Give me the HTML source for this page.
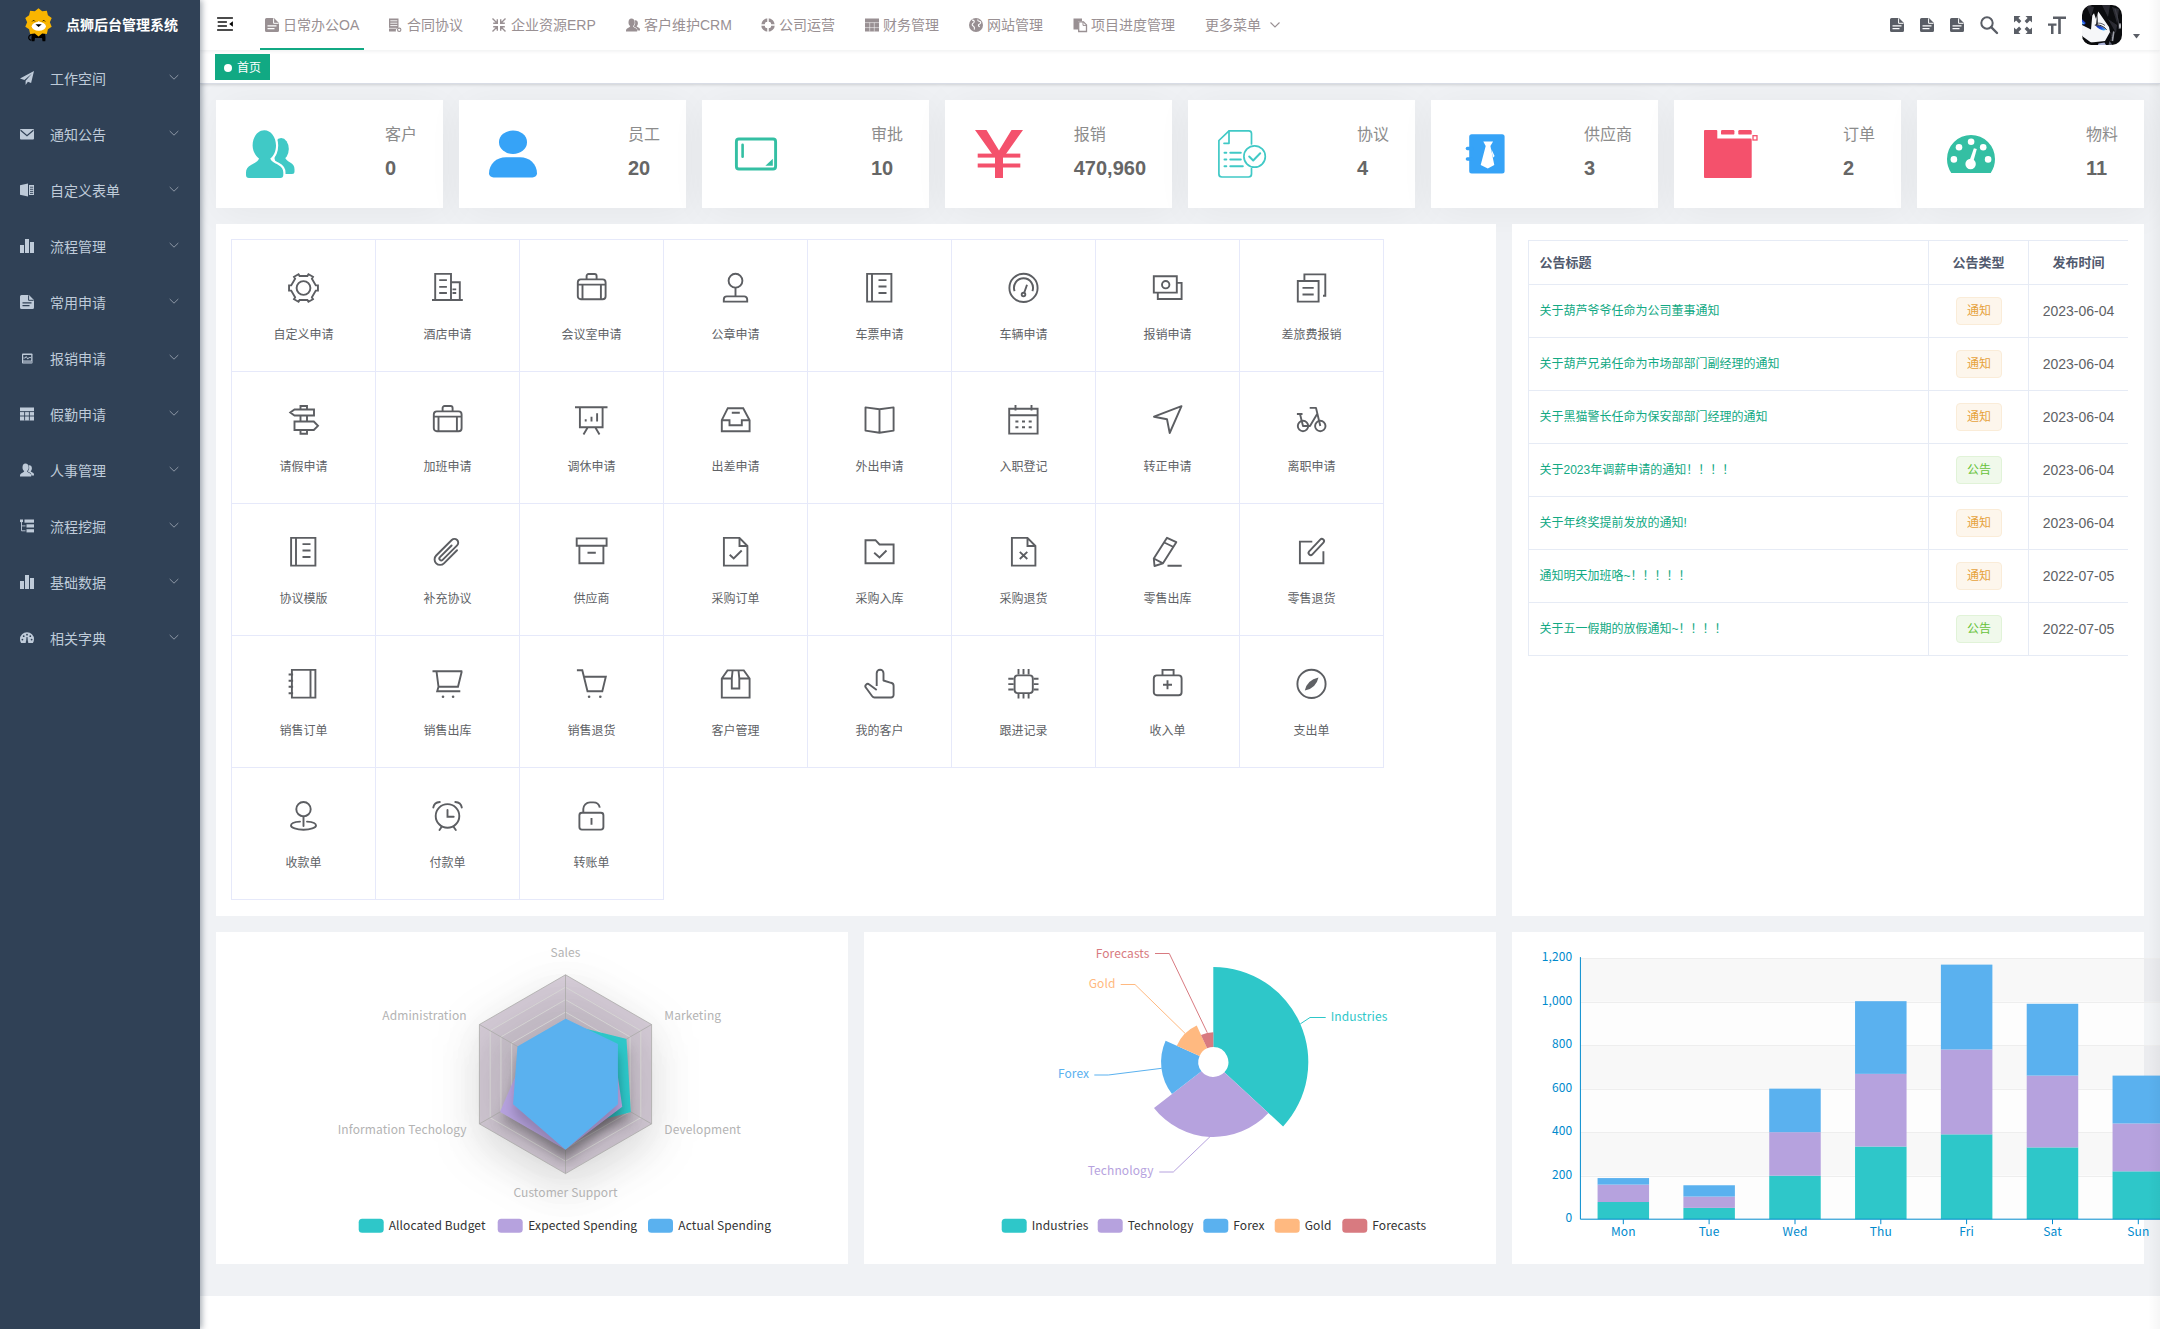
<!DOCTYPE html>
<html lang="zh-CN">
<head>
<meta charset="utf-8">
<title>点狮后台管理系统</title>
<style>
*{box-sizing:border-box;margin:0;padding:0}
html,body{width:2160px;height:1329px;overflow:hidden;background:#fff;font-family:"Liberation Sans","Noto Sans CJK SC",sans-serif;font-size:14px;color:#606266;-webkit-font-smoothing:antialiased}
.abs{position:absolute}
svg{display:block;overflow:visible}
#sidebar{position:absolute;left:0;top:0;width:200px;height:1329px;background:#304156;box-shadow:2px 0 6px rgba(0,21,41,.35);z-index:10}
#sidebar .title{position:absolute;left:66px;top:14px;font-size:14px;line-height:22px;font-weight:bold;color:#fff;white-space:nowrap}
.mi{position:absolute;left:0;width:200px;height:56px;color:#bfcbd9;font-size:14px;line-height:56px}
.mi .txt{position:absolute;left:50px;top:0.5px;white-space:nowrap}
.mi svg.ic{position:absolute;left:19px;top:20px;width:16px;height:16px;fill:#bfcbd9}
.mi svg.ar{position:absolute;left:168px;top:20.500px;width:12px;height:12px;fill:none;stroke:#8d97a5;stroke-width:1}
#main{position:absolute;left:200px;top:0;width:1960px;height:1296px;background:#f0f2f5}
#navbar{position:absolute;left:0;top:0;width:1960px;height:50px;background:#fff;box-shadow:0 1px 4px rgba(0,21,41,.08);z-index:3}
#tags{position:absolute;left:0;top:50px;width:1960px;height:34px;background:#fff;border-bottom:1px solid #d8dce5;box-shadow:0 1px 3px 0 rgba(0,0,0,.12),0 0 3px 0 rgba(0,0,0,.04);z-index:2}
.tag{position:absolute;left:15px;top:4px;height:26px;width:55px;background:#11a983;border:1px solid #11a983;color:#fff;font-size:12px;line-height:24px}
.tag i{position:absolute;left:8px;top:8.700px;width:8px;height:8px;border-radius:50%;background:#fff}
.tag span{position:absolute;left:21px;top:1px}
.nv{position:absolute;top:0;height:50px;line-height:50px;font-size:14px;color:#999093;white-space:nowrap}
.nv svg{position:absolute;top:18px;width:14px;height:14px;fill:#999093}
.card{position:absolute;background:#fff}
.st{top:100px;width:227px;height:108px;box-shadow:4px 4px 40px rgba(0,0,0,.05)}
.st .d{position:absolute;right:26px;top:26px}
.st .t{font-size:16px;line-height:18px;color:#8c8c8c;margin-bottom:13px;white-space:nowrap}
.st .n{font-size:20px;line-height:23px;font-weight:bold;color:#666;white-space:nowrap}
.st svg{position:absolute;left:30px;top:30px;width:48px;height:48px}
.grid{position:absolute;left:15px;top:15px;width:1153px;height:661px;border-top:1px solid #e6e9fa;border-left:1px solid #e6e9fa}
.gc{position:absolute;width:144px;height:132px;border-right:1px solid #e6e9fa;border-bottom:1px solid #e6e9fa;margin:0}
.gc svg{position:absolute;left:55.500px;top:33px;width:30px;height:30px;fill:none;stroke:#5c5e62;stroke-width:1.900}
.gc span{position:absolute;left:0;top:86.500px;width:143px;text-align:center;font-size:12px;line-height:17px;color:#606266;white-space:nowrap}
.tb{position:absolute;left:16px;top:16px;width:600px;height:416px;border-top:1px solid #e6ebf5;border-left:1px solid #e6ebf5}
.tr{position:absolute;left:0;width:599px;border-bottom:1px solid #e6ebf5;font-size:14px;color:#606266}
.tr>div{position:absolute;top:0;height:100%;border-right:1px solid #e6ebf5;display:flex;align-items:center;white-space:nowrap}
.tr .c1{left:0;width:400px;padding-left:11px}
.tr .c2{left:400px;width:100px;justify-content:center}
.tr .c3{left:500px;width:99px;justify-content:center;border-right:none}
.th{font-size:13px;font-weight:bold;color:#515a6e}
.th>div{padding-bottom:3px}
.tr .c1{padding-left:10.500px}
.tr a{font-size:12px;color:#11a983;position:relative;top:-1.500px}
.tg{display:inline-block;height:28px;line-height:27px;padding:0 9.500px;margin-left:1px;font-size:12px;border-radius:4px;border:1px solid}
.tw{background:#fdf6ec;border-color:#faecd8;color:#e6a23c}
.ts{background:#f0f9eb;border-color:#e1f3d8;color:#67c23a}
</style>
</head>
<body>
<div id="sidebar">
<svg class="abs" style="left:21.500px;top:8px;width:33px;height:39.200px" viewBox="0 0 32 38">
<path d="M10.300 23.500c-1.100 2.700-1.400 5.800-.9 8.700h2.700l.5-3.200h6.800l.5 3.200h2.700c.5-2.900.2-6-.9-8.700z" fill="#000"/>
<path d="M9.600 25.800c-2.300.2-3.500 1.900-3 3.700.3 1.100 1.300 1.700 2.400 1.500" fill="none" stroke="#000" stroke-width="1.200"/>
<g transform="translate(16 13.900) scale(1.050) translate(-16 -14)"><path d="M16 1l3.400 2.700 4.300-.4 1 4.200 3.500 2.500-1.700 4 1.700 4-3.500 2.500-1 4.200-4.300-.4L16 27l-3.400-2.700-4.300.4-1-4.200-3.500-2.500 1.700-4-1.700-4 3.500-2.500 1-4.200 4.300.4z" fill="#f9b500"/></g>
<ellipse cx="16.300" cy="17.800" rx="6.900" ry="4.200" fill="#fff"/>
<path d="M13.800 14.500h5l-2.500-1.800z" fill="#fff"/>
<path d="M13 15.700h6.200L16.100 18.400z" fill="#000"/>
<path d="M9.900 13c.6-1.100 2.100-1.100 2.700 0M19.700 13c.6-1.100 2.100-1.100 2.700 0" fill="none" stroke="#000" stroke-width="0.800"/>
</svg>
<div class="title">点狮后台管理系统</div>
<div class="mi" style="top:50px"><svg class="ic" viewBox="-1 -1 16 16"><path d="M14 0L0 7.4l4.4 1.5L12 2.6 5.6 9.8V14l2.3-3.2 3.2 1.1z"/></svg><span class="txt">工作空间</span><svg class="ar" viewBox="0 0 12 12"><path d="M1.700 4l4.300 4.200L10.300 4"/></svg></div>
<div class="mi" style="top:106px"><svg class="ic" viewBox="-1 -1 16 16"><rect x="0" y="2" width="14" height="10.5" rx="1"/><path d="M0.6 3.2L7 8.6l6.4-5.4" fill="none" stroke="#304156" stroke-width="1.2"/></svg><span class="txt">通知公告</span><svg class="ar" viewBox="0 0 12 12"><path d="M1.700 4l4.300 4.200L10.300 4"/></svg></div>
<div class="mi" style="top:162px"><svg class="ic" viewBox="-1 -1 16 16"><path d="M0 2.2L8 0.6v12.8L0 11.8z"/><path d="M9 2h5v10H9z"/><path d="M10 4.2h3.2M10 6.3h3.2M10 8.4h3.2M10 10.4h3.2" stroke="#304156" stroke-width="0.9" fill="none"/></svg><span class="txt">自定义表单</span><svg class="ar" viewBox="0 0 12 12"><path d="M1.700 4l4.300 4.200L10.300 4"/></svg></div>
<div class="mi" style="top:218px"><svg class="ic" viewBox="-1 -1 16 16"><rect x="0" y="6" width="4" height="8"/><rect x="5" y="0" width="4" height="14"/><rect x="10" y="3" width="4" height="11"/></svg><span class="txt">流程管理</span><svg class="ar" viewBox="0 0 12 12"><path d="M1.700 4l4.300 4.200L10.300 4"/></svg></div>
<div class="mi" style="top:274px"><svg class="ic" viewBox="-1 -1 16 16"><path d="M1.5 0H9l5 5v7.5a1.5 1.5 0 0 1-1.5 1.5h-11A1.5 1.5 0 0 1 0 12.500V1.500A1.500 1.500 0 0 1 1.500 0z"/><path d="M8.600 0.300v5h5" fill="none" stroke="#304156" stroke-width="1"/><path d="M2.500 7.800h9M2.500 10.600h7" stroke="#304156" stroke-width="1.300" fill="none"/></svg><span class="txt">常用申请</span><svg class="ar" viewBox="0 0 12 12"><path d="M1.700 4l4.300 4.200L10.300 4"/></svg></div>
<div class="mi" style="top:330px"><svg class="ic" viewBox="-1 -1 16 16"><rect x="2" y="2.500" width="10.500" height="10" rx="0.800"/><rect x="3.200" y="4" width="8" height="5.500" fill="#304156"/><path d="M3.400 7h1.800l1-1.500 1.600 2.600 1-1.500h2.200" fill="none" stroke="#bfcbd9" stroke-width="0.900"/><path d="M3 11h9" stroke="#304156" stroke-width="0.700"/></svg><span class="txt">报销申请</span><svg class="ar" viewBox="0 0 12 12"><path d="M1.700 4l4.300 4.200L10.300 4"/></svg></div>
<div class="mi" style="top:386px"><svg class="ic" viewBox="-1 -1 16 16"><rect x="0" y="0.500" width="14" height="13"/><path d="M0 4.600h14M0 9h14M4.600 4.600v9M9.400 4.600v9" stroke="#304156" stroke-width="0.900" fill="none"/></svg><span class="txt">假勤申请</span><svg class="ar" viewBox="0 0 12 12"><path d="M1.700 4l4.300 4.200L10.300 4"/></svg></div>
<div class="mi" style="top:442px"><svg class="ic" viewBox="-1 -1 16 16"><path d="M9.300 2.200c1.600 0 2.600 1.300 2.600 3 0 1.300-.6 2.400-1.300 2.900.2.800 1.200 1.200 2.200 1.700.8.400 1.200.9 1.200 2.200v.6h-2.600c0-1.600-.6-2.400-1.800-3-.9-.4-1.600-.8-1.800-1.300.9-.9 1.400-2.200 1.400-3.600 0-.9-.2-1.700-.6-2.400.2-.1.500-.1.700-.1z"/><path d="M5.400 0.600c2 0 3.300 1.600 3.300 3.800 0 1.700-.8 3-1.700 3.700.2 1 1.400 1.500 2.700 2.100 1 .5 1.500 1.200 1.500 2.600v.8H0v-.8c0-1.400.5-2.100 1.500-2.600 1.300-.6 2.500-1.100 2.700-2.100-.9-.7-1.700-2-1.700-3.700 0-2.200 1.100-3.800 2.900-3.800z"/></svg><span class="txt">人事管理</span><svg class="ar" viewBox="0 0 12 12"><path d="M1.700 4l4.300 4.200L10.300 4"/></svg></div>
<div class="mi" style="top:498px"><svg class="ic" viewBox="-1 -1 16 16"><rect x="0" y="0.500" width="3" height="2.600"/><rect x="4.500" y="0.500" width="9.500" height="3.200"/><rect x="6.500" y="5.300" width="7.500" height="3.200"/><rect x="6.500" y="10.200" width="7.500" height="3.200"/><path d="M1.500 3v8.800h4M1.500 6.900h4" fill="none" stroke="#bfcbd9" stroke-width="0.900"/></svg><span class="txt">流程挖掘</span><svg class="ar" viewBox="0 0 12 12"><path d="M1.700 4l4.300 4.200L10.300 4"/></svg></div>
<div class="mi" style="top:554px"><svg class="ic" viewBox="-1 -1 16 16"><rect x="0" y="6" width="4" height="8"/><rect x="5" y="0" width="4" height="14"/><rect x="10" y="3" width="4" height="11"/></svg><span class="txt">基础数据</span><svg class="ar" viewBox="0 0 12 12"><path d="M1.700 4l4.300 4.200L10.300 4"/></svg></div>
<div class="mi" style="top:610px"><svg class="ic" viewBox="-1 -1 16 16"><path d="M7 1.200a7 7 0 0 1 7 7c0 1.500-.4 2.800-1.100 3.800H1.100A6.900 6.900 0 0 1 0 8.200a7 7 0 0 1 7-7z"/><g fill="#304156"><circle cx="2.400" cy="8.600" r="0.900"/><circle cx="3.700" cy="5.200" r="0.900"/><circle cx="7" cy="3.700" r="0.900"/><circle cx="10.300" cy="5.200" r="0.900"/><circle cx="11.600" cy="8.600" r="0.900"/><path d="M6.500 6h1l.4 4.300a1.300 1.300 0 1 1-1.800 0z"/></g></svg><span class="txt">相关字典</span><svg class="ar" viewBox="0 0 12 12"><path d="M1.700 4l4.300 4.200L10.300 4"/></svg></div>
</div>
<div id="main">
<div id="navbar">
<svg class="abs" style="left:17px;top:17px;width:16px;height:14px" viewBox="0 0 16 14"><path d="M0.100 0.900h15.800M0.700 5h9.200M0.700 8.900h9.200M0.100 13.100h15.800" stroke="#111" stroke-width="1.500" fill="none"/><path d="M15.900 4.200v5.600L12.200 7z" fill="#000"/></svg>
<div class="nv" style="left:65px"><svg viewBox="0 0 14 14" style="left:0"><path d="M1.500 0H9l5 5v7.500a1.500 1.500 0 0 1-1.500 1.500h-11A1.500 1.500 0 0 1 0 12.500v-11A1.500 1.500 0 0 1 1.500 0z"/><path d="M8.600 0.300v5h5" fill="none" stroke="#fff" stroke-width="1"/><path d="M2.500 7.800h9M2.500 10.600h7" stroke="#fff" stroke-width="1.300" fill="none"/></svg><span style="position:absolute;left:18px;top:0">日常办公OA</span></div>
<div class="nv" style="left:188px"><svg viewBox="0 0 14 14" style="left:0"><path d="M1 0.500h9.500v9.200a3 3 0 0 0-2.600 3.800H1z"/><path d="M2.300 2.800h7M2.300 5.200h7M2.300 7.600h7" stroke="#fff" stroke-width="0.900" fill="none"/><path d="M0.500 10.300h8" stroke="#fff" stroke-width="0.700"/><circle cx="11.200" cy="11.800" r="1.700" fill="none" stroke="#999093" stroke-width="1.100"/></svg><span style="position:absolute;left:19px;top:0">合同协议</span></div>
<div class="nv" style="left:292px"><svg viewBox="0 0 14 14" style="left:0"><g fill="none" stroke="#999093" stroke-width="1.400"><path d="M0.500 0.500l4.500 4.500M1.200 5.300h4.100V1.200"/><path d="M13.500 0.500L9 5M12.800 5.300H8.700V1.200"/><path d="M0.500 13.500L5 9M1.200 8.700h4.100v4.100"/><path d="M13.500 13.500L9 9M12.800 8.700H8.700v4.100"/></g></svg><span style="position:absolute;left:19px;top:0">企业资源ERP</span></div>
<div class="nv" style="left:426px"><svg viewBox="0 0 14 14" style="left:0"><path d="M9.300 2.200c1.600 0 2.600 1.300 2.600 3 0 1.300-.6 2.400-1.300 2.900.2.800 1.200 1.200 2.200 1.700.8.400 1.200.9 1.200 2.200v.6h-2.600c0-1.600-.6-2.400-1.800-3-.9-.4-1.600-.8-1.800-1.300.9-.9 1.400-2.200 1.400-3.600 0-.9-.2-1.700-.6-2.400.2-.1.500-.1.700-.1z"/><path d="M5.400 0.600c2 0 3.300 1.600 3.300 3.800 0 1.700-.8 3-1.700 3.700.2 1 1.400 1.500 2.700 2.100 1 .5 1.500 1.200 1.500 2.600v.8H0v-.8c0-1.400.5-2.100 1.500-2.600 1.300-.6 2.500-1.100 2.700-2.100-.9-.7-1.700-2-1.700-3.700 0-2.200 1.100-3.800 2.900-3.800z"/></svg><span style="position:absolute;left:18px;top:0">客户维护CRM</span></div>
<div class="nv" style="left:561px"><svg viewBox="0 0 14 14" style="left:0"><circle cx="7" cy="7" r="5" fill="none" stroke="#999093" stroke-width="3.600"/><path d="M7 0v14M0 7h14" stroke="#fff" stroke-width="1.500"/><circle cx="7" cy="7" r="3.200" fill="#fff"/></svg><span style="position:absolute;left:18px;top:0">公司运营</span></div>
<div class="nv" style="left:665px"><svg viewBox="0 0 14 14" style="left:0"><rect x="0" y="0.500" width="14" height="13"/><path d="M0 4.600h14M0 9.600h14M4.700 4.600v9M9.300 4.600v9" stroke="#fff" stroke-opacity="0.750" stroke-width="0.700" fill="none"/></svg><span style="position:absolute;left:18px;top:0">财务管理</span></div>
<div class="nv" style="left:769px"><svg viewBox="0 0 14 14" style="left:0"><circle cx="7" cy="7" r="7"/><path d="M3 2.200c1.500-.4 2.500.5 2.200 1.800-.3 1.200-1.800 1.200-2 2.500-.2 1 .8 1.500 1.600 2 .9.600.8 1.800.4 3.200" fill="none" stroke="#fff" stroke-width="1.100"/><path d="M9 1.500c-.5 1 .3 1.800 1.300 1.800s1.700.8 1.300 1.800c-.3.800-1.400.7-2 1.500-.6.900.2 1.800 1.200 2.200" fill="none" stroke="#fff" stroke-width="1.100"/></svg><span style="position:absolute;left:18px;top:0">网站管理</span></div>
<div class="nv" style="left:872.5px"><svg viewBox="0 0 14 14" style="left:0"><path d="M0.500 0.500h8.500v2.700H5v8.300H0.500z"/><path d="M5.700 3.900h4.800l3 3v6.600H5.700z" fill="none" stroke="#999093" stroke-width="1.300"/><path d="M10 3.900v3.500h3.500" fill="none" stroke="#999093" stroke-width="1"/></svg><span style="position:absolute;left:18.5px;top:0">项目进度管理</span></div>
<div class="nv" style="left:1005px">更多菜单</div>
<svg class="abs" style="left:1070px;top:21px;width:10px;height:8px" viewBox="0 0 10 8"><path d="M0.500 1.500L5 6l4.500-4.500" fill="none" stroke="#999093" stroke-width="1.100"/></svg>
<div class="abs" style="left:60px;top:48px;width:104px;height:2px;background:#11a983"></div>
<svg class="abs" style="left:1690px;top:18px;width:14px;height:14px;fill:#5a5e66" viewBox="0 0 14 14"><path d="M1.500 0H9l5 5v7.500a1.500 1.500 0 0 1-1.500 1.500h-11A1.500 1.500 0 0 1 0 12.500v-11A1.500 1.500 0 0 1 1.500 0z"/><path d="M8.600 0.300v5h5" fill="none" stroke="#fff" stroke-width="1"/><path d="M2.500 7.800h9M2.500 10.600h7" stroke="#fff" stroke-width="1.300" fill="none"/></svg>
<svg class="abs" style="left:1720px;top:18px;width:14px;height:14px;fill:#5a5e66" viewBox="0 0 14 14"><path d="M1.500 0H9l5 5v7.500a1.500 1.500 0 0 1-1.500 1.500h-11A1.500 1.500 0 0 1 0 12.500v-11A1.500 1.500 0 0 1 1.500 0z"/><path d="M8.600 0.300v5h5" fill="none" stroke="#fff" stroke-width="1"/><path d="M2.500 7.800h9M2.500 10.600h7" stroke="#fff" stroke-width="1.300" fill="none"/></svg>
<svg class="abs" style="left:1750px;top:18px;width:14px;height:14px;fill:#5a5e66" viewBox="0 0 14 14"><path d="M1.500 0H9l5 5v7.500a1.500 1.500 0 0 1-1.500 1.500h-11A1.500 1.500 0 0 1 0 12.500v-11A1.500 1.500 0 0 1 1.500 0z"/><path d="M8.600 0.300v5h5" fill="none" stroke="#fff" stroke-width="1"/><path d="M2.500 7.800h9M2.500 10.600h7" stroke="#fff" stroke-width="1.300" fill="none"/></svg>
<svg class="abs" style="left:1780px;top:16px;width:18px;height:18px" viewBox="0 0 18 18"><circle cx="7" cy="7" r="5.700" fill="none" stroke="#5a5e66" stroke-width="2"/><path d="M11.200 11.200l5.800 5.800" stroke="#5a5e66" stroke-width="2.400" stroke-linecap="round"/></svg>
<svg class="abs" style="left:1814px;top:16px;width:18px;height:18px" viewBox="0 0 18 18"><g fill="#5a5e66"><path d="M0 0h6.500L4.400 2.100l3 3-2.300 2.300-3-3L0 6.500z"/><path d="M18 0v6.500l-2.100-2.100-3 3-2.300-2.300 3-3L11.500 0z"/><path d="M0 18v-6.500l2.100 2.100 3-3 2.300 2.300-3 3L6.500 18z"/><path d="M18 18h-6.500l2.100-2.100-3-3 2.300-2.300 3 3 2.100-2.100z"/></g></svg>
<svg class="abs" style="left:1848px;top:16px;width:18px;height:18px" viewBox="0 0 18 18"><path d="M5 0.500h13v2.400h-5.200V18h-2.600V2.900H5z" fill="#5a5e66"/><path d="M0 7.500h8.500v2.200H5.500V18H3V9.700H0z" fill="#5a5e66"/></svg>
<svg class="abs" style="left:1882px;top:5px;width:40px;height:40px" viewBox="0 0 40 40"><defs><clipPath id="avc"><rect width="40" height="40" rx="10"/></clipPath><filter id="avb" x="-10%" y="-10%" width="120%" height="120%"><feGaussianBlur stdDeviation="0.550"/></filter><linearGradient id="eyeg" x1="0" y1="0" x2="1" y2="1"><stop offset="0" stop-color="#14208a"/><stop offset="0.550" stop-color="#1f55e0"/><stop offset="1" stop-color="#55c4f5"/></linearGradient></defs>
<g clip-path="url(#avc)"><rect width="40" height="40" fill="#0b0c0f"/><g filter="url(#avb)">
<path d="M4 0L9 12 12 2zM20 0l6 12 2-12zM30 2l5 16 2-14zM26 14l8 14 1-8z" fill="#2b2c33"/>
<path d="M33 4c2 6 4 12 4 20" stroke="#3d3e46" stroke-width="1.200" fill="none"/>
<path d="M0 20L9 24.500 10.300 10.500 12 8.200 14 14 16.300 6.500 27 22 28 27 23 36 9 37.500 0 31z" fill="#f6f7f9"/>
<path d="M15.300 8L14 20.500l1.900-1.200z" fill="#1a1b20"/>
<path d="M14.500 18.500c3-1 6 0 8.500 2" stroke="#3a3b42" stroke-width="0.800" fill="none"/>
<path d="M13.200 20.300C17 19.800 21 21.800 24.200 24.800 21 26.300 17 25 13.200 20.300z" fill="url(#eyeg)"/>
<path d="M12.800 20.100C17 19.300 21.500 21.300 24.600 24.600" stroke="#14151a" stroke-width="1" fill="none"/>
<path d="M0 14.300L3.800 18 2.200 19.800 0 18.800z" fill="#1d45d8"/>
<path d="M0 16.500l2.500 2.300L0 19.500z" fill="#5aa8f0"/>
<path d="M0 33l3 2.500 5 2 10 1.500v3H0z" fill="#0b0c0f"/>
<path d="M0 34.500l1.800 1.200-.5 2.300L0 38z" fill="#8e9fe0"/>
<path d="M16.500 38.500l6-1 1.500 2.500h-8z" fill="#aab2d6"/>
<path d="M31 26.200l1.600.5-1.400 9.500-1.700-.5z" fill="#9a9ca6"/>
<path d="M27.500 36l3 4h-4z" fill="#5d6070"/>
<ellipse cx="38" cy="21" rx="0.900" ry="3" fill="#d5d6db"/>
<path d="M28.500 27c1.500 3 1.500 6 0 9" stroke="#2e2f36" stroke-width="1" fill="none"/>
</g></g></svg>
<svg class="abs" style="left:1932.500px;top:34px;width:7px;height:4.500px" viewBox="0 0 8 5"><path d="M0 0h8L4 5z" fill="#5a5e66"/></svg>
</div>
<div id="tags"><div class="tag"><i></i><span>首页</span></div></div>
<div class="card st" style="left:16px"><svg viewBox="0 0 48 48"><g fill="#40c9c6"><ellipse cx="35.200" cy="19" rx="7.600" ry="11"/><path d="M28 26h10.500c.5 3.200 2.800 4.700 5.700 6.500 2.800 1.800 4.300 3.600 4.300 6.700v2.300A2.500 2.500 0 0 1 46 44H32z"/><g stroke="#fff" stroke-width="4.400" paint-order="stroke"><path d="M18.300 0.300c6.600 0 11.700 6.800 11.700 15.200 0 5.600-2.300 10.500-5.700 13.100.9 3 4.200 4.400 8 6.300 3.500 1.800 5 4.100 5 7.600V45a3 3 0 0 1-3 3H3a3 3 0 0 1-3-3v-2.500c0-3.500 1.500-5.800 5-7.600 3.800-1.900 7.100-3.300 8-6.300-3.400-2.600-6.400-7.500-6.400-13.100C6.600 7.100 11.700 0.300 18.300 0.300z"/></g></g></svg><div class="d"><div class="t">客户</div><div class="n">0</div></div></div>
<div class="card st" style="left:259px"><svg viewBox="0 0 48 48"><g fill="#36a3f7"><ellipse cx="24" cy="12.200" rx="14" ry="11.800"/><path d="M0 43.500C0 34 7.500 27.300 17 27.300h14c9.500 0 17 6.700 17 16.200 0 2.300-2 3.900-4.500 3.900h-39C2 47.400 0 45.800 0 43.500z"/></g></svg><div class="d"><div class="t">员工</div><div class="n">20</div></div></div>
<div class="card st" style="left:502px"><svg viewBox="0 0 48 48"><rect x="4.400" y="9" width="39.200" height="30" rx="2.500" fill="none" stroke="#34bfa3" stroke-width="2.900"/><path d="M10.600 14.800v12" stroke="#34bfa3" stroke-width="2.600" stroke-linecap="round"/><path d="M33.400 35.800h7.400v-7z" fill="#34bfa3"/></svg><div class="d"><div class="t">审批</div><div class="n">10</div></div></div>
<div class="card st" style="left:745px"><svg viewBox="0 0 48 48"><g fill="#f4516c"><path d="M0 0h11.500L24 20.500 36.500 0H48L29.500 26h-11z"/><rect x="2.700" y="23.600" width="42.600" height="4"/><rect x="2.700" y="33.500" width="42.600" height="4"/><rect x="20" y="22" width="8" height="26"/></g></svg><div class="d"><div class="t">报销</div><div class="n">470,960</div></div></div>
<div class="card st" style="left:988px"><svg viewBox="0 0 48 48"><g fill="none" stroke="#40c9c6" stroke-width="1.700" stroke-linecap="round" stroke-linejoin="round"><path d="M33.500 14V3.500A2.700 2.700 0 0 0 30.800 0.900H11L0.900 10.500V44a3 3 0 0 0 3 3h26.600a3 3 0 0 0 3-3v-5.500"/><path d="M11 1.200V13.300H6"/><circle cx="36.600" cy="26.500" r="10.700"/><path d="M31.200 26.500l4 4 7-7.300" stroke-width="2"/></g><g stroke="#40c9c6" stroke-width="2" stroke-linecap="round"><path d="M6.500 22.800h1.800M12.300 22.800h10.500M6.500 29.600h1.800M12.300 29.600h10.500M6.500 36.200h1.800M12.300 36.200h12.500"/></g></svg><div class="d"><div class="t">协议</div><div class="n">4</div></div></div>
<div class="card st" style="left:1231px"><svg viewBox="0 0 48 48"><g fill="#36a3f7"><rect x="8.200" y="4.200" width="35.400" height="39.300" rx="2.500"/><rect x="4.700" y="16.800" width="8" height="3.400" rx="1.700"/><rect x="4.700" y="27.300" width="8" height="3.400" rx="1.700"/></g><path d="M22.300 11.500h9.800l-2.700 4.400 3.900 19.100-6.500 3.600-7.100-3.600 5-19.100z" fill="#fff"/><path d="M30.300 19l3.300 7-1.700 1.800z" fill="#fff"/></svg><div class="d"><div class="t">供应商</div><div class="n">3</div></div></div>
<div class="card st" style="left:1474px"><svg viewBox="0 0 48 48"><g fill="#f4516c"><path d="M1 0h11.300a1 1 0 0 1 1 1v7.500h33.400a1 1 0 0 1 1 1V47a1 1 0 0 1-1 1H1a1 1 0 0 1-1-1V1a1 1 0 0 1 1-1z"/><rect x="17" y="0" width="13.400" height="4.600" rx="1.200"/><rect x="34.300" y="0" width="13.400" height="4.600" rx="1.200"/></g><rect x="49" y="5.700" width="4" height="4.300" fill="#fff" stroke="#f4516c" stroke-width="1.300"/></svg><div class="d"><div class="t">订单</div><div class="n">2</div></div></div>
<div class="card st" style="left:1717px"><svg viewBox="0 0 48 48"><path d="M24 5A24 24 0 0 1 48 29c0 5-1.500 10-4.300 14H4.300A24.600 24.600 0 0 1 0 29 24 24 0 0 1 24 5z" fill="#34bfa3"/><g fill="#fff"><circle cx="6.900" cy="29.400" r="3.300"/><circle cx="12" cy="17.300" r="3.300"/><circle cx="24.100" cy="11.800" r="3.300"/><circle cx="36.200" cy="17.300" r="3.300"/><circle cx="41.100" cy="29.400" r="3.300"/><circle cx="23.600" cy="34" r="5.200"/><path d="M26.900 18.300l2.900.8-3.600 13-3.800-1z"/></g></svg><div class="d"><div class="t">物料</div><div class="n">11</div></div></div>
<div class="card" id="gridcard" style="left:16px;top:224px;width:1280px;height:692px">
<div class="grid">
<div class="gc" style="left:0px;top:0px"><svg viewBox="0 0 30 30"><path d="M27.80 12.40 L29.95 12.40 L29.95 17.60 L27.80 17.60 L23.90 24.35 L24.98 26.21 L20.47 28.81 L19.40 26.95 L11.60 26.95 L10.53 28.81 L6.02 26.21 L7.10 24.35 L3.20 17.60 L1.05 17.60 L1.05 12.40 L3.20 12.40 L7.10 5.65 L6.02 3.79 L10.53 1.19 L11.60 3.05 L19.40 3.05 L20.47 1.19 L24.98 3.79 L23.90 5.65z"/><circle cx="15.5" cy="15" r="6.9"/></svg><span>自定义申请</span></div>
<div class="gc" style="left:144px;top:0px"><svg viewBox="0 0 30 30"><path d="M3.200 27V0.900H19V27M19 9.300h8.800V27M0 27h30.800M7.200 7.100h7.700M7.200 13.900h7.700M7.200 20h7.700M20.500 16.400h3.700M20.500 20h3.700"/></svg><span>酒店申请</span></div>
<div class="gc" style="left:288px;top:0px"><svg viewBox="0 0 30 30"><rect x="1.8" y="6.4" width="27.800" height="19.900" rx="3"/><path d="M10.600 6.400V3a2 2 0 0 1 2-2h6a2 2 0 0 1 2 2v3.400M1.800 11.600h27.800M6.500 11.600v14.700M24.900 11.600v14.700"/></svg><span>会议室申请</span></div>
<div class="gc" style="left:432px;top:0px"><svg viewBox="0 0 30 30"><circle cx="15.500" cy="7.700" r="6.900"/><path d="M15.500 14.600v8.800M3.800 28.600v-2.200a3 3 0 0 1 3-3h17.400a3 3 0 0 1 3 3v2.200z"/></svg><span>公章申请</span></div>
<div class="gc" style="left:576px;top:0px"><svg viewBox="0 0 30 30"><path d="M3.100 0.900h24.300v27.700H3.100zM8 0.900v27.700M14.500 7.100h8M14.500 13.500h8M14.500 20h8"/></svg><span>车票申请</span></div>
<div class="gc" style="left:720px;top:0px"><svg viewBox="0 0 30 30"><circle cx="15.500" cy="14.900" r="14.100"/><path d="M6.600 18.100A9.500 9.500 0 1 1 24.400 18.100"/><circle cx="15.500" cy="21.500" r="1.800"/><path d="M16.200 19.800L19 11.700"/></svg><span>车辆申请</span></div>
<div class="gc" style="left:864px;top:0px"><svg viewBox="0 0 30 30"><path d="M1.800 3.200h23v16.400h-23z"/><circle cx="13.700" cy="11.700" r="3.700"/><path d="M24.800 9.900h4.800V26H5.800v-6.400"/></svg><span>报销申请</span></div>
<div class="gc" style="left:1008px;top:0px"><svg viewBox="0 0 30 30"><path d="M1.800 8h20.800v20.600H1.800zM6.500 14.900h11.200M6.500 21.500h11.200M8.400 8V1.400h20.900v21.400H27"/></svg><span>差旅费报销</span></div>
<div class="gc" style="left:0px;top:132px"><svg viewBox="0 0 30 30"><path d="M6.500 4.500H26v6H6.500L2.300 7.500zM6.500 16.500H25.800L30 20.800 25.800 25H6.500zM12.500 4.500V1H19v3.500M12.500 10.500v6M19 10.500v6M12.500 25v3.800H19V25"/></svg><span>请假申请</span></div>
<div class="gc" style="left:144px;top:132px"><svg viewBox="0 0 30 30"><rect x="1.8" y="6.4" width="27.800" height="19.900" rx="3"/><path d="M10.600 6.400V3a2 2 0 0 1 2-2h6a2 2 0 0 1 2 2v3.400M1.800 11.600h27.800M6.500 11.600v14.700M24.900 11.600v14.700"/></svg><span>加班申请</span></div>
<div class="gc" style="left:288px;top:132px"><svg viewBox="0 0 30 30"><path d="M-1 2.300h32.500M3.900 2.300v20h22.700v-20M11.800 22.300L7.500 29.500M19.200 22.300l4.300 7.200M9.700 14.300v2.200M15.500 11.700v4.800M21.100 8.200v8.300"/></svg><span>调休申请</span></div>
<div class="gc" style="left:432px;top:132px"><svg viewBox="0 0 30 30"><path d="M1.800 15.200L7.800 3.200H23.200L29.600 15.200V26.300H1.800zM1.800 15.200H9.500V20.300H21.800V15.200H29.600M11.800 7.700h8"/></svg><span>出差申请</span></div>
<div class="gc" style="left:576px;top:132px"><svg viewBox="0 0 30 30"><path d="M15.500 4.300L1.500 2.400V25.600L15.500 27.800 29.600 25.600V2.400zM15.500 4.300V27.800" stroke-linejoin="round"/></svg><span>外出申请</span></div>
<div class="gc" style="left:720px;top:132px"><svg viewBox="0 0 30 30"><path d="M1.200 3.800h28.400v24.800H1.200zM1.200 10.300h28.400M7.500 0v5.500M23.500 0v5.500M7.400 16.500h3M14 16.500h3M20.700 16.500h3M7.400 22.300h3M14 22.300h3M20.700 22.300h3"/></svg><span>入职登记</span></div>
<div class="gc" style="left:864px;top:132px"><svg viewBox="0 0 30 30"><path d="M29.500 1.200L2 11.700 15 14.300 17.700 28z" stroke-linejoin="round"/></svg><span>转正申请</span></div>
<div class="gc" style="left:1008px;top:132px"><svg viewBox="0 0 30 30"><circle cx="7" cy="21" r="5.200"/><circle cx="24.300" cy="21" r="5.200"/><path d="M0.900 9h5.600M4 9L7 21h7L21.300 8.800M13.700 2.900h6.300L24.300 21" stroke-linejoin="round"/></svg><span>离职申请</span></div>
<div class="gc" style="left:0px;top:264px"><svg viewBox="0 0 30 30"><path d="M3.100 0.900h24.300v27.700H3.100zM8 0.900v27.700M14.500 7.100h8M14.500 13.500h8M14.500 20h8"/></svg><span>协议模版</span></div>
<div class="gc" style="left:144px;top:264px"><svg viewBox="0 0 30 30"><g transform="rotate(45 15.500 15)"><path d="M21 7V25.500a5.500 5.500 0 0 1-11 0V3.500a3.800 3.800 0 0 1 7.600 0V24a1.900 1.900 0 0 1-3.800 0V7.500" stroke-linecap="round"/></g></svg><span>补充协议</span></div>
<div class="gc" style="left:288px;top:264px"><svg viewBox="0 0 30 30"><path d="M0.700 1.400h29.900v7.300H0.700zM3.400 8.700v17.600h24V8.700M11.500 15.700h8.300"/></svg><span>供应商</span></div>
<div class="gc" style="left:432px;top:264px"><svg viewBox="0 0 30 30"><path d="M3.900 0.900H19.500L27.400 9V28.600H3.900zM19.500 0.900V9h7.900M9.700 17.800l4 3.700 8-8"/></svg><span>采购订单</span></div>
<div class="gc" style="left:576px;top:264px"><svg viewBox="0 0 30 30"><path d="M1.500 3.200h10L15.500 7.500H29.600V26.300H1.500zM10.200 15.700l5.300 4.800 7-7"/></svg><span>采购入库</span></div>
<div class="gc" style="left:720px;top:264px"><svg viewBox="0 0 30 30"><path d="M3.900 0.900H19.500L27.400 9V28.600H3.900zM19.500 0.900V9h7.900M11.800 14.900l7.500 7.100M19.300 14.900l-7.500 7.100"/></svg><span>采购退货</span></div>
<div class="gc" style="left:864px;top:264px"><svg viewBox="0 0 30 30"><path d="M15 0.800L24.300 5.200 11 26.300 2.500 29 1.800 21.500zM12.300 5.500l9.200 4.500M1.800 21.500L11 26.300M15.500 28.800h14.200" stroke-linejoin="round"/></svg><span>零售出库</span></div>
<div class="gc" style="left:1008px;top:264px"><svg viewBox="0 0 30 30"><path d="M16.300 4.600H3.900V26.300H27.400V14.300"/><g transform="rotate(-47 20.300 10)"><rect x="10" y="7.800" width="20.600" height="4.400" rx="2.200"/></g></svg><span>零售退货</span></div>
<div class="gc" style="left:0px;top:396px"><svg viewBox="0 0 30 30"><path d="M3.900 0.900h23.500v27.700H3.900zM22.500 0.900v27.700M0.600 5.500h4.500M0.600 11.700h4.500M0.600 17.800h4.500M0.600 24.200h4.500"/></svg><span>销售订单</span></div>
<div class="gc" style="left:144px;top:396px"><svg viewBox="0 0 30 30"><path d="M0.500 2.300h29.800M4.500 2.300l2 15.500H26l3.800-15.500M6.500 17.800l-1.300 4.500h23.100"/><circle cx="11" cy="27.700" r="1.300" fill="#5f6165" stroke="none"/><circle cx="21.100" cy="27.700" r="1.300" fill="#5f6165" stroke="none"/></svg><span>销售出库</span></div>
<div class="gc" style="left:288px;top:396px"><svg viewBox="0 0 30 30"><path d="M0.900 1.300h5.400L11.500 22.300H26.300L29.800 7.700H8.200"/><circle cx="13.100" cy="27.700" r="1.300" fill="#5f6165" stroke="none"/><circle cx="24.300" cy="27.700" r="1.300" fill="#5f6165" stroke="none"/></svg><span>销售退货</span></div>
<div class="gc" style="left:432px;top:396px"><svg viewBox="0 0 30 30"><path d="M1.800 9.500L7.500 1.400H23.800L29.600 9.500V28.600H1.800zM1.800 9.500h10M19.300 9.500h10.300M12.600 1.400L11.800 9.500v10h7.500v-10L18.500 1.400"/></svg><span>客户管理</span></div>
<div class="gc" style="left:576px;top:396px"><svg viewBox="0 0 30 30"><path d="M12.700 17V4.200a3.400 3.400 0 0 1 6.800 0v7.300l7.500 2.300a3 3 0 0 1 2.600 3V26a2.500 2.500 0 0 1-2.500 2.500H10.500a3 3 0 0 1-2.300-1.200L2 18.800a2.300 2.300 0 0 1 3.300-3.200l7.400 5.400" stroke-linejoin="round"/></svg><span>我的客户</span></div>
<div class="gc" style="left:720px;top:396px"><svg viewBox="0 0 30 30"><rect x="6.600" y="6.400" width="18.200" height="17.700" rx="3"/><path d="M10.500 0v5.500M15.500 0v5.500M20.600 0v5.500M10.500 25v4.500M15.500 25v4.500M20.600 25v4.500M0.300 9.800h5.400M0.300 15.100h5.400M0.300 20.500h5.400M25.700 9.800h4.800M25.700 15.100h4.800M25.700 20.500h4.800"/></svg><span>跟进记录</span></div>
<div class="gc" style="left:864px;top:396px"><svg viewBox="0 0 30 30"><rect x="1.800" y="6.400" width="27.800" height="19.900" rx="3"/><path d="M10.500 6.400V0.900h11.100v5.500M15.500 11.200v9M11 15.700h9"/></svg><span>收入单</span></div>
<div class="gc" style="left:1008px;top:396px"><svg viewBox="0 0 30 30"><circle cx="15.500" cy="14.900" r="14.100"/><path d="M8.800 21.600Q11 11 22.500 8.500Q20 19.500 8.800 21.600z" fill="#5f6165" stroke="none"/></svg><span>支出单</span></div>
<div class="gc" style="left:0px;top:528px"><svg viewBox="0 0 30 30"><circle cx="15.500" cy="8.200" r="7.200"/><path d="M15.500 15.400V25M12 20.600C5.500 21 3 22.800 3 24.500c0 2.300 5.600 4.200 12.500 4.200S28 26.800 28 24.500c0-1.700-2.500-3.500-9-3.900" stroke-linecap="round"/></svg><span>收款单</span></div>
<div class="gc" style="left:144px;top:528px"><svg viewBox="0 0 30 30"><circle cx="15.500" cy="14.900" r="11.800"/><path d="M15.500 9v6.700h6.200M1.300 6.500C1.800 3.500 4.500 1.200 7.800 1M23.300 1c3.300.2 6 2.500 6.500 5.500M9.700 25.800L7.500 29M21.500 25.800l2.300 3.200" stroke-linecap="round"/></svg><span>付款单</span></div>
<div class="gc" style="left:288px;top:528px"><svg viewBox="0 0 30 30"><rect x="3.400" y="11.800" width="24" height="16.800" rx="2.500"/><path d="M7.300 11.800V8.100a6.700 6.700 0 0 1 6.700-6.700h3.200a6.700 6.700 0 0 1 6.600 5.200M15.500 17v6.700"/></svg><span>转账单</span></div>
</div></div>
<div class="card" style="left:1312px;top:224px;width:632px;height:692px">
<div class="tb">
<div class="tr th" style="top:0;height:44px"><div class="c1">公告标题</div><div class="c2">公告类型</div><div class="c3">发布时间</div></div>
<div class="tr" style="top:44px;height:53px"><div class="c1"><a>关于葫芦爷爷任命为公司董事通知</a></div><div class="c2"><span class="tg tw">通知</span></div><div class="c3">2023-06-04</div></div>
<div class="tr" style="top:97px;height:53px"><div class="c1"><a>关于葫芦兄弟任命为市场部部门副经理的通知</a></div><div class="c2"><span class="tg tw">通知</span></div><div class="c3">2023-06-04</div></div>
<div class="tr" style="top:150px;height:53px"><div class="c1"><a>关于黑猫警长任命为保安部部门经理的通知</a></div><div class="c2"><span class="tg tw">通知</span></div><div class="c3">2023-06-04</div></div>
<div class="tr" style="top:203px;height:53px"><div class="c1"><a>关于2023年调薪申请的通知！！！！</a></div><div class="c2"><span class="tg ts">公告</span></div><div class="c3">2023-06-04</div></div>
<div class="tr" style="top:256px;height:53px"><div class="c1"><a>关于年终奖提前发放的通知!</a></div><div class="c2"><span class="tg tw">通知</span></div><div class="c3">2023-06-04</div></div>
<div class="tr" style="top:309px;height:53px"><div class="c1"><a>通知明天加班咯~！！！！！</a></div><div class="c2"><span class="tg tw">通知</span></div><div class="c3">2022-07-05</div></div>
<div class="tr" style="top:362px;height:53px"><div class="c1"><a>关于五一假期的放假通知~！！！！</a></div><div class="c2"><span class="tg ts">公告</span></div><div class="c3">2022-07-05</div></div>
</div></div>
<div class="card" style="left:16px;top:932px;width:632px;height:332px"></div>
<div class="card" style="left:664px;top:932px;width:632px;height:332px"></div>
<div class="card" style="left:1312px;top:932px;width:632px;height:332px"></div>
<svg class="abs" style="left:0;top:0;width:1960px;height:1329px;z-index:1" viewBox="0 0 1960 1329" font-size="12" font-family="Noto Sans CJK SC, Liberation Sans, sans-serif" letter-spacing="0.1">
<defs>
<filter id="rs" x="-150%" y="-150%" width="400%" height="400%" color-interpolation-filters="sRGB"><feDropShadow dx="0" dy="15" stdDeviation="22" flood-color="#000" flood-opacity="0.5"/></filter>
<filter id="ds" x="-50%" y="-50%" width="200%" height="200%" color-interpolation-filters="sRGB"><feDropShadow dx="0" dy="10" stdDeviation="6" flood-color="#000" flood-opacity="0.2"/></filter>
</defs>
<g>
<path d="M365.50 1061.78 L354.74 1067.99 L354.74 1080.41 L365.50 1086.62 L376.26 1080.41 L376.26 1067.99Z" fill="rgba(127,95,132,0.3)" fill-rule="evenodd" filter="url(#rs)"/>
<path d="M365.50 1049.35 L343.98 1061.78 L343.98 1086.62 L365.50 1099.05 L387.02 1086.62 L387.02 1061.78ZM365.50 1061.78 L354.74 1067.99 L354.74 1080.41 L365.50 1086.62 L376.26 1080.41 L376.26 1067.99Z" fill="rgba(127,95,132,0.3)" fill-rule="evenodd" filter="url(#rs)"/>
<path d="M365.50 1036.92 L333.22 1055.56 L333.22 1092.84 L365.50 1111.48 L397.78 1092.84 L397.78 1055.56ZM365.50 1049.35 L343.98 1061.78 L343.98 1086.62 L365.50 1099.05 L387.02 1086.62 L387.02 1061.78Z" fill="rgba(127,95,132,0.3)" fill-rule="evenodd" filter="url(#rs)"/>
<path d="M365.50 1024.50 L322.46 1049.35 L322.46 1099.05 L365.50 1123.90 L408.54 1099.05 L408.54 1049.35ZM365.50 1036.92 L333.22 1055.56 L333.22 1092.84 L365.50 1111.48 L397.78 1092.84 L397.78 1055.56Z" fill="rgba(127,95,132,0.3)" fill-rule="evenodd" filter="url(#rs)"/>
<path d="M365.50 1012.08 L311.70 1043.14 L311.70 1105.26 L365.50 1136.33 L419.30 1105.26 L419.30 1043.14ZM365.50 1024.50 L322.46 1049.35 L322.46 1099.05 L365.50 1123.90 L408.54 1099.05 L408.54 1049.35Z" fill="rgba(127,95,132,0.3)" fill-rule="evenodd" filter="url(#rs)"/>
<path d="M365.50 999.65 L300.94 1036.92 L300.94 1111.48 L365.50 1148.75 L430.06 1111.48 L430.06 1036.92ZM365.50 1012.08 L311.70 1043.14 L311.70 1105.26 L365.50 1136.33 L419.30 1105.26 L419.30 1043.14Z" fill="rgba(127,95,132,0.3)" fill-rule="evenodd" filter="url(#rs)"/>
<path d="M365.50 987.23 L290.18 1030.71 L290.18 1117.69 L365.50 1161.17 L440.82 1117.69 L440.82 1030.71ZM365.50 999.65 L300.94 1036.92 L300.94 1111.48 L365.50 1148.75 L430.06 1111.48 L430.06 1036.92Z" fill="rgba(127,95,132,0.3)" fill-rule="evenodd" filter="url(#rs)"/>
<path d="M365.50 974.80 L279.42 1024.50 L279.42 1123.90 L365.50 1173.60 L451.58 1123.90 L451.58 1024.50ZM365.50 987.23 L290.18 1030.71 L290.18 1117.69 L365.50 1161.17 L440.82 1117.69 L440.82 1030.71Z" fill="rgba(127,95,132,0.3)" fill-rule="evenodd" filter="url(#rs)"/>
</g>
<g fill="none" stroke="#d6d6d3" stroke-opacity="0.85" stroke-width="1">
<polygon points="365.50,1061.78 354.74,1067.99 354.74,1080.41 365.50,1086.62 376.26,1080.41 376.26,1067.99"/>
<polygon points="365.50,1049.35 343.98,1061.78 343.98,1086.62 365.50,1099.05 387.02,1086.62 387.02,1061.78"/>
<polygon points="365.50,1036.92 333.22,1055.56 333.22,1092.84 365.50,1111.48 397.78,1092.84 397.78,1055.56"/>
<polygon points="365.50,1024.50 322.46,1049.35 322.46,1099.05 365.50,1123.90 408.54,1099.05 408.54,1049.35"/>
<polygon points="365.50,1012.08 311.70,1043.14 311.70,1105.26 365.50,1136.33 419.30,1105.26 419.30,1043.14"/>
<polygon points="365.50,999.65 300.94,1036.92 300.94,1111.48 365.50,1148.75 430.06,1111.48 430.06,1036.92"/>
<polygon points="365.50,987.23 290.18,1030.71 290.18,1117.69 365.50,1161.17 440.82,1117.69 440.82,1030.71"/>
</g><g fill="none" stroke="#a8a8a6" stroke-opacity="0.75" stroke-width="1">
<polygon points="365.50,974.80 279.42,1024.50 279.42,1123.90 365.50,1173.60 451.58,1123.90 451.58,1024.50"/>
<path d="M365.50 1074.20L365.50 974.80"/>
<path d="M365.50 1074.20L279.42 1024.50"/>
<path d="M365.50 1074.20L279.42 1123.90"/>
<path d="M365.50 1074.20L365.50 1173.60"/>
<path d="M365.50 1074.20L451.58 1123.90"/>
<path d="M365.50 1074.20L451.58 1024.50"/>
</g>
<polygon points="365.50,1024.50 335.37,1056.81 313.85,1104.02 365.50,1128.87 430.06,1111.48 425.76,1039.41" fill="#2ec7c9" stroke="#2ec7c9" stroke-width="1.5" stroke-linejoin="round" filter="url(#ds)"/>
<polygon points="365.50,1034.44 326.76,1051.84 300.94,1111.48 365.50,1148.75 421.45,1106.51 412.85,1046.87" fill="#b6a2de" stroke="#b6a2de" stroke-width="1.5" stroke-linejoin="round" filter="url(#ds)"/>
<polygon points="365.50,1019.53 318.15,1046.87 313.85,1104.02 365.50,1148.75 417.15,1104.02 417.15,1044.38" fill="#5ab1ef" stroke="#5ab1ef" stroke-width="1.5" stroke-linejoin="round" filter="url(#ds)"/>
<text x="365.5" y="951.5" text-anchor="middle" fill="#b3b3b3" dominant-baseline="central" >Sales</text>
<text x="464.3" y="1014.5" text-anchor="start" fill="#b3b3b3" dominant-baseline="central" >Marketing</text>
<text x="464.3" y="1128.8" text-anchor="start" fill="#b3b3b3" dominant-baseline="central" >Development</text>
<text x="365.5" y="1191.5" text-anchor="middle" fill="#b3b3b3" dominant-baseline="central" >Customer Support</text>
<text x="266.7" y="1014.5" text-anchor="end" fill="#b3b3b3" dominant-baseline="central" >Administration</text>
<text x="266.7" y="1128.8" text-anchor="end" fill="#b3b3b3" dominant-baseline="central" >Information Techology</text>
<rect x="158.7" y="1218.7" width="25" height="14" rx="3.5" fill="#2ec7c9"/>
<text x="188.7" y="1224.3" text-anchor="start" fill="#333" dominant-baseline="central" >Allocated Budget</text>
<rect x="297.7" y="1218.7" width="25" height="14" rx="3.5" fill="#b6a2de"/>
<text x="328.3" y="1224.3" text-anchor="start" fill="#333" dominant-baseline="central" >Expected Spending</text>
<rect x="448.0" y="1218.7" width="25" height="14" rx="3.5" fill="#5ab1ef"/>
<text x="478.3" y="1224.3" text-anchor="start" fill="#333" dominant-baseline="central" >Actual Spending</text>
<path d="M1013.30 967.00A95.00 95.00 0 0 1 1083.10 1126.45L1024.32 1072.18A15 15 0 0 0 1013.30 1047.00Z" fill="#2ec7c9"/>
<path d="M1068.40 1112.88A75.00 75.00 0 0 1 953.99 1107.91L1001.44 1071.18A15 15 0 0 0 1024.32 1072.18Z" fill="#b6a2de"/>
<path d="M971.98 1093.98A52.25 52.25 0 0 1 965.59 1040.70L999.60 1055.89A15 15 0 0 0 1001.44 1071.18Z" fill="#5ab1ef"/>
<path d="M976.77 1045.70A40.00 40.00 0 0 1 996.73 1025.59L1007.09 1048.35A15 15 0 0 0 999.60 1055.89Z" fill="#ffb980"/>
<path d="M1000.98 1034.92A29.75 29.75 0 0 1 1013.30 1032.25L1013.30 1047.00A15 15 0 0 0 1007.09 1048.35Z" fill="#d87a80"/>
<path d="M1100.3 1023.9L1110.0 1017.5L1125.7 1017.5" fill="none" stroke="#2ec7c9" stroke-width="1"/>
<text x="1130.7" y="1015.7" text-anchor="start" fill="#2ec7c9" dominant-baseline="central" >Industries</text>
<path d="M1007.3 1032.7L969.3 953.5L955.0 953.5" fill="none" stroke="#d87a80" stroke-width="1"/>
<text x="949.6" y="952.5" text-anchor="end" fill="#d87a80" dominant-baseline="central" >Forecasts</text>
<path d="M985.0 1033.3L935.0 984.5L920.7 984.5" fill="none" stroke="#ffb980" stroke-width="1"/>
<text x="915.5" y="982.5" text-anchor="end" fill="#ffb980" dominant-baseline="central" >Gold</text>
<path d="M961.7 1068.3L908.3 1075.0L894.3 1075.0" fill="none" stroke="#5ab1ef" stroke-width="1"/>
<text x="889.2" y="1072.7" text-anchor="end" fill="#5ab1ef" dominant-baseline="central" >Forex</text>
<path d="M1010.0 1136.7L973.3 1172.0L959.3 1172.0" fill="none" stroke="#b6a2de" stroke-width="1"/>
<text x="953.5" y="1169.7" text-anchor="end" fill="#b6a2de" dominant-baseline="central" >Technology</text>
<rect x="801.7" y="1218.7" width="25" height="14" rx="3.5" fill="#2ec7c9"/>
<text x="831.7" y="1224.3" text-anchor="start" fill="#333" dominant-baseline="central" >Industries</text>
<rect x="897.7" y="1218.7" width="25" height="14" rx="3.5" fill="#b6a2de"/>
<text x="927.7" y="1224.3" text-anchor="start" fill="#333" dominant-baseline="central" >Technology</text>
<rect x="1003.3" y="1218.7" width="25" height="14" rx="3.5" fill="#5ab1ef"/>
<text x="1033.3" y="1224.3" text-anchor="start" fill="#333" dominant-baseline="central" >Forex</text>
<rect x="1074.7" y="1218.7" width="25" height="14" rx="3.5" fill="#ffb980"/>
<text x="1104.7" y="1224.3" text-anchor="start" fill="#333" dominant-baseline="central" >Gold</text>
<rect x="1142.3" y="1218.7" width="25" height="14" rx="3.5" fill="#d87a80"/>
<text x="1172.3" y="1224.3" text-anchor="start" fill="#333" dominant-baseline="central" >Forecasts</text>
<rect x="1380.4" y="1175.68" width="600.8" height="43.52" fill="rgba(250,250,250,0.3)"/>
<rect x="1380.4" y="1132.17" width="600.8" height="43.52" fill="rgba(200,200,200,0.13)"/>
<rect x="1380.4" y="1088.65" width="600.8" height="43.52" fill="rgba(250,250,250,0.3)"/>
<rect x="1380.4" y="1045.13" width="600.8" height="43.52" fill="rgba(200,200,200,0.13)"/>
<rect x="1380.4" y="1001.62" width="600.8" height="43.52" fill="rgba(250,250,250,0.3)"/>
<rect x="1380.4" y="958.10" width="600.8" height="43.52" fill="rgba(200,200,200,0.13)"/>
<path d="M1380.4 1176.5H1981.2" stroke="#eee" stroke-width="1"/>
<path d="M1380.4 1132.5H1981.2" stroke="#eee" stroke-width="1"/>
<path d="M1380.4 1089.5H1981.2" stroke="#eee" stroke-width="1"/>
<path d="M1380.4 1045.5H1981.2" stroke="#eee" stroke-width="1"/>
<path d="M1380.4 1002.5H1981.2" stroke="#eee" stroke-width="1"/>
<path d="M1380.4 958.5H1981.2" stroke="#eee" stroke-width="1"/>
<rect x="1397.57" y="1202.01" width="51.5" height="17.19" fill="#2ec7c9"/>
<rect x="1397.57" y="1184.60" width="51.5" height="17.41" fill="#b6a2de"/>
<rect x="1397.57" y="1178.08" width="51.5" height="6.53" fill="#5ab1ef"/>
<rect x="1483.39" y="1207.89" width="51.5" height="11.31" fill="#2ec7c9"/>
<rect x="1483.39" y="1196.57" width="51.5" height="11.31" fill="#b6a2de"/>
<rect x="1483.39" y="1185.26" width="51.5" height="11.31" fill="#5ab1ef"/>
<rect x="1569.23" y="1175.68" width="51.5" height="43.52" fill="#2ec7c9"/>
<rect x="1569.23" y="1132.17" width="51.5" height="43.52" fill="#b6a2de"/>
<rect x="1569.23" y="1088.65" width="51.5" height="43.52" fill="#5ab1ef"/>
<rect x="1655.06" y="1146.53" width="51.5" height="72.67" fill="#2ec7c9"/>
<rect x="1655.06" y="1073.85" width="51.5" height="72.67" fill="#b6a2de"/>
<rect x="1655.06" y="1001.18" width="51.5" height="72.67" fill="#5ab1ef"/>
<rect x="1740.89" y="1134.34" width="51.5" height="84.86" fill="#2ec7c9"/>
<rect x="1740.89" y="1049.49" width="51.5" height="84.86" fill="#b6a2de"/>
<rect x="1740.89" y="964.63" width="51.5" height="84.86" fill="#5ab1ef"/>
<rect x="1826.72" y="1147.40" width="51.5" height="71.80" fill="#2ec7c9"/>
<rect x="1826.72" y="1075.60" width="51.5" height="71.80" fill="#b6a2de"/>
<rect x="1826.72" y="1003.79" width="51.5" height="71.80" fill="#5ab1ef"/>
<rect x="1912.55" y="1171.33" width="51.5" height="47.87" fill="#2ec7c9"/>
<rect x="1912.55" y="1123.46" width="51.5" height="47.87" fill="#b6a2de"/>
<rect x="1912.55" y="1075.60" width="51.5" height="47.87" fill="#5ab1ef"/>
<path d="M1380.4 957.1V1219.2" stroke="#008acd" stroke-width="1"/>
<path d="M1380.4 1219.2H1981.2" stroke="#008acd" stroke-width="1"/>
<path d="M1423.3 1219.2v5" stroke="#008acd" stroke-width="1"/>
<text x="1423.3" y="1230.8" text-anchor="middle" fill="#008acd" dominant-baseline="central" >Mon</text>
<path d="M1509.1 1219.2v5" stroke="#008acd" stroke-width="1"/>
<text x="1509.1" y="1230.8" text-anchor="middle" fill="#008acd" dominant-baseline="central" >Tue</text>
<path d="M1595.0 1219.2v5" stroke="#008acd" stroke-width="1"/>
<text x="1595.0" y="1230.8" text-anchor="middle" fill="#008acd" dominant-baseline="central" >Wed</text>
<path d="M1680.8 1219.2v5" stroke="#008acd" stroke-width="1"/>
<text x="1680.8" y="1230.8" text-anchor="middle" fill="#008acd" dominant-baseline="central" >Thu</text>
<path d="M1766.6 1219.2v5" stroke="#008acd" stroke-width="1"/>
<text x="1766.6" y="1230.8" text-anchor="middle" fill="#008acd" dominant-baseline="central" >Fri</text>
<path d="M1852.5 1219.2v5" stroke="#008acd" stroke-width="1"/>
<text x="1852.5" y="1230.8" text-anchor="middle" fill="#008acd" dominant-baseline="central" >Sat</text>
<path d="M1938.3 1219.2v5" stroke="#008acd" stroke-width="1"/>
<text x="1938.3" y="1230.8" text-anchor="middle" fill="#008acd" dominant-baseline="central" >Sun</text>
<text x="1372.3" y="1216.7" text-anchor="end" fill="#008acd" dominant-baseline="central" >0</text>
<text x="1372.3" y="1173.2" text-anchor="end" fill="#008acd" dominant-baseline="central" >200</text>
<text x="1372.3" y="1129.7" text-anchor="end" fill="#008acd" dominant-baseline="central" >400</text>
<text x="1372.3" y="1086.2" text-anchor="end" fill="#008acd" dominant-baseline="central" >600</text>
<text x="1372.3" y="1042.6" text-anchor="end" fill="#008acd" dominant-baseline="central" >800</text>
<text x="1372.3" y="999.1" text-anchor="end" fill="#008acd" dominant-baseline="central" >1,000</text>
<text x="1372.3" y="955.6" text-anchor="end" fill="#008acd" dominant-baseline="central" >1,200</text>
</svg>
</div>
<div class="abs" style="left:2148px;top:0;width:12px;height:1329px;background:linear-gradient(to right,rgba(0,0,0,0),rgba(0,0,0,0.035));z-index:20"></div>
</body>
</html>
